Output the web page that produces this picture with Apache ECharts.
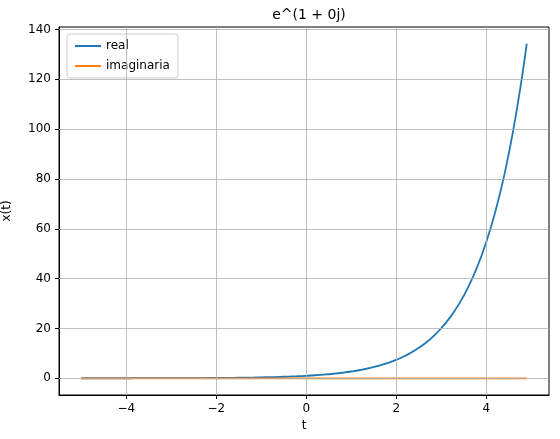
<!DOCTYPE html>
<html>
<head>
<meta charset="utf-8">
<script src="https://cdn.jsdelivr.net/npm/echarts@6/dist/echarts.min.js"></script>
<style>html,body{margin:0;padding:0;background:#fff}#main{width:560px;height:439px}</style>
</head>
<body>
<div id="main"></div>
<script>
// valores
var tVals = [-5,-4.8,-4.6,-4.4,-4.2,-4,-3.8,-3.6,-3.4,-3.2,-3,-2.8,-2.6,-2.4,-2.2,-2,-1.8,-1.6,-1.4,-1.2,-1,-0.8,-0.6,-0.4,-0.2,0,0.2,0.4,0.6,0.8,1,1.2,1.4,1.6,1.8,2,2.2,2.4,2.6,2.8,3,3.2,3.4,3.6,3.8,4,4.2,4.4,4.6,4.8,4.9];
var realVals = [0.0067,0.0082,0.0101,0.0123,0.0150,0.0183,0.0224,0.0273,0.0334,0.0408,0.0498,0.0608,0.0743,0.0907,0.1108,0.1353,0.1653,0.2019,0.2466,0.3012,0.3679,0.4493,0.5488,0.6703,0.8187,1,1.2214,1.4918,1.8221,2.2255,2.7183,3.3201,4.0552,4.953,6.0496,7.3891,9.025,11.023,13.464,16.445,20.086,24.533,29.964,36.598,44.701,54.598,66.686,81.451,99.484,121.51,134.29];
var imagVals = tVals.map(function(){ return 0; });
var xTicks = [-4,-2,0,2,4];
var yTicks = [0,20,40,60,80,100,120,140];

function pairs(ys){ return tVals.map(function(t,i){ return [t, ys[i]]; }); }
function fmt(v){ return String(v).replace('-', '\u2212'); }

// líneas de la rejilla en los ticks
var gridLines = xTicks.map(function(v){ return {xAxis: v}; })
    .concat(yTicks.map(function(v){ return {yAxis: v}; }));

var myChart = echarts.init(document.getElementById('main'));
var axisCommon = {
    axisLine: {onZero: false, lineStyle: {color: '#000'}},
    axisTick: {show: true, length: 4, inside: false, lineStyle: {color: '#000'}},
    axisLabel: {color: '#000', fontSize: 12, fontFamily: 'DejaVu Sans', formatter: fmt},
    splitLine: {show: false},
    nameTextStyle: {color: '#000', fontSize: 12, fontFamily: 'DejaVu Sans'}
};
var option = {
    animation: false,
    title: {text: 'e^(1 + 0j)', left: 304, top: 3, textAlign: 'center',
        textStyle: {fontSize: 14, fontWeight: 'normal', color: '#000', fontFamily: 'DejaVu Sans'}},
    grid: {left: 59, top: 27, right: 11, bottom: 44, containLabel: false, outerBoundsMode: 'none',
        show: true, borderColor: '#000', borderWidth: 1},
    legend: {left: 67, top: 34, orient: 'vertical', itemWidth: 26, itemHeight: 2, itemGap: 8,
        borderColor: '#ccc', borderWidth: 1, borderRadius: 3, padding: [6, 8, 6, 8],
        backgroundColor: 'rgba(255,255,255,0.8)',
        textStyle: {fontSize: 12, color: '#000', fontFamily: 'DejaVu Sans'},
        data: [{name: 'real', icon: 'rect'}, {name: 'imaginaria', icon: 'rect'}]},
    xAxis: Object.assign({}, axisCommon, {
        type: 'value', min: -5.495, max: 5.395, name: 't', nameLocation: 'middle', nameGap: 22,
        axisTick: Object.assign({}, axisCommon.axisTick, {customValues: xTicks}),
        axisLabel: Object.assign({}, axisCommon.axisLabel, {customValues: xTicks})
    }),
    yAxis: Object.assign({}, axisCommon, {
        type: 'value', min: -6.71, max: 140.98, name: 'x(t)', nameLocation: 'middle', nameGap: 46,
        axisTick: Object.assign({}, axisCommon.axisTick, {customValues: yTicks}),
        axisLabel: Object.assign({}, axisCommon.axisLabel, {customValues: yTicks})
    }),
    series: [
        {name: 'grid', type: 'line', data: [], silent: true, z: 1,
            markLine: {silent: true, symbol: 'none', label: {show: false}, animation: false,
                lineStyle: {color: '#b0b0b0', width: 0.8, type: 'solid'}, data: gridLines}},
        {name: 'real', type: 'line', showSymbol: false, data: pairs(realVals), smooth: true, z: 3,
            lineStyle: {color: '#1f77b4', width: 1.8}, itemStyle: {color: '#1f77b4'}},
        {name: 'imaginaria', type: 'line', showSymbol: false, data: pairs(imagVals), z: 3,
            lineStyle: {color: '#ff7f0e', width: 1.8}, itemStyle: {color: '#ff7f0e'}}
    ]
};
myChart.setOption(option);
</script>
</body>
</html>
